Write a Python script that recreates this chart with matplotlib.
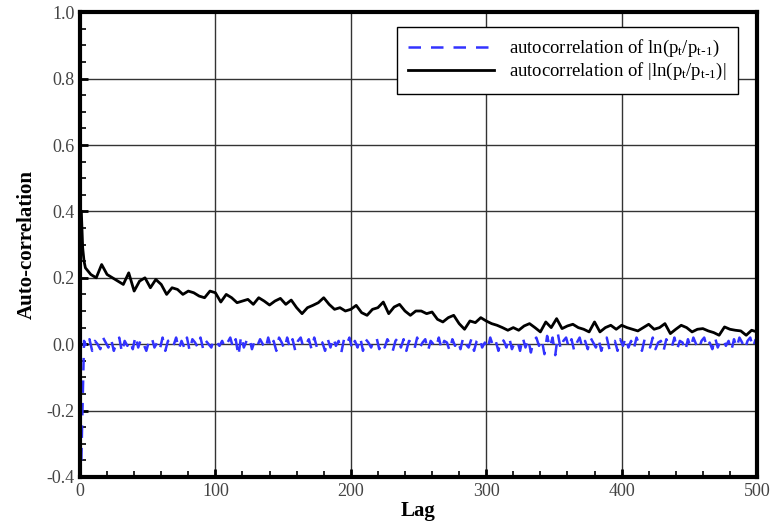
import numpy as np
import matplotlib
matplotlib.use("Agg")
import matplotlib.pyplot as plt
from matplotlib.ticker import MultipleLocator

# autocorrelation of |ln(p_t/p_t-1)|: lags 1-3, then every 4th lag up to 500
abs_head_lags = [1, 2, 3]
abs_head_vals = [0.40, 0.29, 0.25]
abs_vals = [
    0.23, 0.21, 0.20, 0.24, 0.21, 0.20, 0.19, 0.18, 0.215, 0.16,
    0.19, 0.20, 0.17, 0.195, 0.18, 0.15, 0.17, 0.165, 0.15, 0.16,
    0.155, 0.145, 0.14, 0.16, 0.155, 0.127, 0.15, 0.14, 0.125, 0.13,
    0.135, 0.12, 0.14, 0.13, 0.118, 0.13, 0.138, 0.12, 0.133, 0.11,
    0.092, 0.11, 0.117, 0.125, 0.14, 0.12, 0.105, 0.11, 0.10, 0.105,
    0.117, 0.095, 0.087, 0.105, 0.11, 0.127, 0.092, 0.112, 0.12, 0.10,
    0.087, 0.10, 0.10, 0.092, 0.097, 0.075, 0.067, 0.08, 0.087, 0.062,
    0.045, 0.07, 0.065, 0.08, 0.07, 0.062, 0.057, 0.05, 0.042, 0.05,
    0.042, 0.055, 0.062, 0.05, 0.037, 0.067, 0.05, 0.077, 0.047, 0.055,
    0.06, 0.05, 0.045, 0.037, 0.067, 0.037, 0.05, 0.057, 0.045, 0.057,
    0.05, 0.045, 0.04, 0.05, 0.06, 0.045, 0.05, 0.062, 0.032, 0.045,
    0.057, 0.05, 0.037, 0.045, 0.047, 0.04, 0.035, 0.027, 0.052, 0.045,
    0.042, 0.04, 0.027, 0.042, 0.037,
]

# autocorrelation of ln(p_t/p_t-1): every 2nd lag starting at 1
ret_vals = [
    -0.35, 0.01, -0.01, 0.015, -0.02, 0.01, 0.00, -0.015, 0.02, 0.005,
    -0.01, 0.015, -0.02, 0.005, 0.02, -0.025, 0.01, -0.005, 0.01, -0.015,
    0.025, -0.01, 0.015, 0.00, -0.02, 0.01, 0.02, -0.01, 0.005, -0.015,
    0.02, -0.02, 0.01, 0.015, -0.005, 0.02, -0.015, 0.01, -0.01, 0.02,
    -0.02, 0.015, 0.005, -0.01, 0.02, -0.015, 0.01, 0.00, -0.01, 0.015,
    0.005, -0.005, 0.01, -0.01, 0.005, 0.02, -0.01, 0.015, -0.035, 0.025,
    -0.01, 0.01, 0.02, -0.015, 0.01, -0.005, 0.015, 0.00, -0.015, 0.02,
    -0.01, 0.01, -0.02, 0.02, 0.005, -0.015, 0.02, -0.01, 0.015, -0.02,
    0.01, 0.02, -0.01, 0.00, 0.015, -0.015, 0.02, -0.01, 0.01, 0.005,
    -0.02, 0.015, -0.01, 0.02, -0.005, 0.01, -0.025, 0.015, 0.00, 0.02,
    -0.015, 0.01, -0.01, 0.02, -0.02, 0.015, 0.005, -0.01, 0.01, 0.02,
    -0.015, 0.005, -0.01, 0.015, 0.00, -0.02, 0.01, 0.02, -0.01, 0.015,
    -0.02, 0.01, 0.005, -0.015, 0.02, -0.01, 0.005, 0.015, -0.02, 0.01,
    0.00, -0.01, 0.02, -0.015, 0.01, 0.005, -0.02, 0.015, -0.005, 0.01,
    -0.015, 0.02, 0.00, -0.01, 0.015, -0.02, 0.01, 0.02, -0.01, 0.005,
    -0.015, 0.02, -0.005, 0.01, -0.02, 0.015, 0.01, -0.01, 0.02, -0.015,
    0.005, 0.01, -0.02, 0.02, -0.01, 0.015, -0.025, 0.01, 0.02, -0.005,
    0.015, -0.03, 0.025, -0.01, 0.02, -0.033, 0.03, -0.015, 0.01, 0.02,
    -0.01, 0.015, -0.02, 0.005, 0.02, -0.01, 0.01, -0.015, 0.02, 0.005,
    -0.01, 0.015, -0.02, 0.01, 0.02, -0.015, 0.005, 0.01, -0.02, 0.015,
    -0.005, 0.02, -0.01, 0.01, -0.015, 0.02, 0.00, -0.02, 0.015, 0.01,
    -0.01, 0.02, -0.015, 0.005, 0.01, -0.02, 0.015, 0.00, -0.01, 0.02,
    -0.015, 0.01, 0.005, -0.02, 0.015, -0.01, 0.02, 0.00, -0.015, 0.01,
    0.02, -0.01, 0.005, -0.015, 0.02, -0.01, 0.01, 0.015, -0.005, 0.01,
    -0.02, 0.015, -0.01, 0.02, 0.005, -0.015, 0.01, 0.02, -0.01, 0.015,
]

x_ticks = [0, 100, 200, 300, 400, 500]
y_ticks = [-0.4, -0.2, 0.0, 0.2, 0.4, 0.6, 0.8, 1.0]

plt.rcParams['font.family'] = ['Liberation Serif', 'DejaVu Serif']
plt.rcParams['mathtext.default'] = 'regular'

abs_lags = np.r_[abs_head_lags, 4 * np.arange(1, len(abs_vals) + 1)]
abs_all = np.r_[abs_head_vals, abs_vals]
ret_lags = 1 + 2 * np.arange(len(ret_vals))

fig = plt.figure(figsize=(7.72, 5.24), dpi=100)
ax = fig.add_axes([0.1036, 0.0897, 0.877, 0.887])

ax.plot(ret_lags, ret_vals, color='#3333ff', lw=1.8, ls=(0, (5, 4)),
        label=r'autocorrelation of ln(p$_t$/p$_{t\text{-}1}$)')
ax.plot(abs_lags, abs_all, color='black', lw=2,
        label=r'autocorrelation of |ln(p$_t$/p$_{t\text{-}1}$)|')

ax.set_xlim(0, 500)
ax.set_ylim(-0.4, 1.0)
ax.set_xticks(x_ticks)
ax.set_yticks(y_ticks)
ax.set_yticklabels([f"{v:.1f}" for v in y_ticks])
ax.xaxis.set_minor_locator(MultipleLocator(20))
ax.yaxis.set_minor_locator(MultipleLocator(0.05))
ax.tick_params(which='major', direction='in', length=6, width=2,
               labelsize=13, labelcolor='#444444', pad=4)
ax.tick_params(which='minor', direction='in', length=4, width=1.2)

ax.grid(True, which='major', color='#333333', lw=1)
for s in ax.spines.values():
    s.set_linewidth(3)

ax.set_xlabel('Lag', fontsize=15, fontweight='bold', labelpad=1)
ax.set_ylabel('Auto-correlation', fontsize=15, fontweight='bold', labelpad=7)

leg = ax.legend(loc='upper right', bbox_to_anchor=(0.972, 0.968), fontsize=13.5,
                fancybox=False, framealpha=1, edgecolor='black',
                handlelength=4.6, handletextpad=0.8, borderpad=0.6,
                labelspacing=0.1, borderaxespad=0)
leg.get_frame().set_linewidth(1)

fig.savefig('out.png', dpi=100)
